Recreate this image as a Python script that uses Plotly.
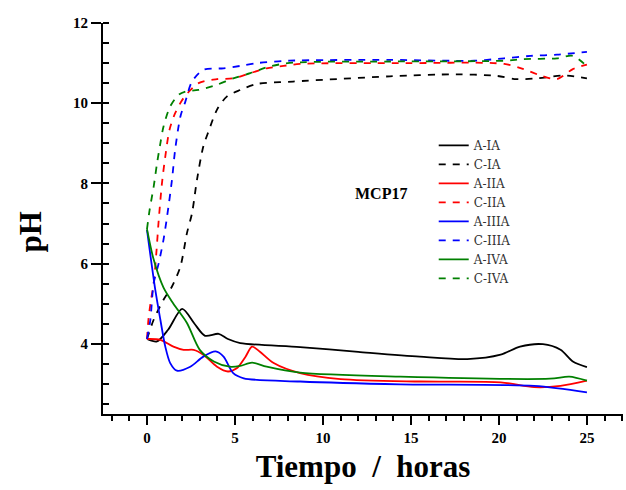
import plotly.graph_objects as go

# pH vs time readings for the eight MCP17 cells (A = anode, C = cathode)
t_A_IA = [0, 0.57, 1.2, 2.0, 2.7, 3.3, 4.07, 4.6, 5.3, 8.7, 12.0, 15.5, 18.2, 20.1, 21.2, 22.5, 23.5, 24.2, 25.0]
ph_A_IA = [4.12, 4.06, 4.35, 4.87, 4.5, 4.2, 4.25, 4.12, 4.02, 3.92, 3.8, 3.68, 3.62, 3.73, 3.93, 3.99, 3.85, 3.56, 3.42]

t_C_IA = [0, 0.38, 0.94, 1.42, 1.9, 2.27, 2.56, 2.84, 3.2, 3.5, 3.98, 4.55, 5.3, 6.25, 8.3, 13.8, 17.6, 19.9, 21.0, 22.2, 23.7, 25.0]
ph_C_IA = [4.12, 4.6, 5.1, 5.43, 5.93, 6.76, 7.26, 8.09, 8.92, 9.3, 9.84, 10.17, 10.33, 10.48, 10.54, 10.67, 10.72, 10.68, 10.6, 10.62, 10.69, 10.62]

t_A_IIA = [0, 0.76, 1.5, 2.08, 2.65, 3.2, 3.98, 4.6, 5.1, 5.6, 5.97, 6.4, 7.2, 8.7, 11.0, 15.5, 20.1, 22.0, 23.5, 25.0]
ph_A_IIA = [4.12, 4.1, 3.93, 3.85, 3.85, 3.73, 3.43, 3.31, 3.39, 3.68, 3.93, 3.81, 3.52, 3.27, 3.12, 3.06, 3.04, 2.92, 2.95, 3.08]

t_C_IIA = [0, 0.09, 0.23, 0.38, 0.53, 0.66, 0.85, 1.04, 1.28, 1.6, 2.08, 2.93, 3.98, 4.9, 5.87, 6.8, 7.76, 8.7, 14.8, 20.3, 21.4, 22.5, 23.3, 24.2, 25.0]
ph_C_IIA = [4.12, 4.64, 5.1, 5.51, 6.26, 7.05, 8.0, 8.67, 9.34, 9.75, 10.13, 10.5, 10.6, 10.62, 10.75, 10.87, 10.93, 10.98, 11.0, 10.98, 10.85, 10.67, 10.6, 10.85, 10.96]

t_A_IIIA = [0, 0.47, 0.76, 1.04, 1.32, 1.7, 2.46, 3.2, 3.9, 4.35, 4.9, 5.5, 8.7, 14.4, 22.0, 25.0]
ph_A_IIIA = [6.84, 5.35, 4.6, 3.93, 3.52, 3.33, 3.43, 3.68, 3.81, 3.68, 3.27, 3.14, 3.06, 2.99, 2.95, 2.79]

t_C_IIIA = [0, 0.19, 0.38, 0.66, 0.94, 1.14, 1.42, 1.6, 1.9, 2.18, 2.56, 3.2, 4.35, 5.3, 6.25, 8.1, 13.8, 18.6, 20.3, 21.8, 23.3, 25.0]
ph_C_IIIA = [4.12, 4.6, 5.51, 6.0, 6.6, 7.17, 8.09, 8.84, 9.67, 10.04, 10.54, 10.83, 10.87, 10.93, 11.0, 11.06, 11.08, 11.06, 11.12, 11.18, 11.21, 11.28]

t_A_IVA = [0, 0.38, 0.94, 1.5, 2.27, 3.0, 3.8, 4.7, 5.3, 5.97, 6.8, 8.7, 14.4, 22.9, 24.0, 25.0]
ph_A_IVA = [6.86, 6.1, 5.4, 5.0, 4.52, 3.85, 3.56, 3.43, 3.45, 3.53, 3.43, 3.28, 3.18, 3.13, 3.18, 3.08]

t_C_IVA = [0, 0.15, 0.38, 0.57, 0.76, 0.94, 1.32, 1.8, 2.18, 2.93, 3.98, 4.9, 5.87, 7.0, 8.3, 13.8, 20.3, 21.4, 23.3, 24.2, 25.0]
ph_C_IVA = [6.86, 7.34, 7.92, 8.5, 9.0, 9.42, 9.92, 10.21, 10.29, 10.33, 10.46, 10.62, 10.75, 10.92, 11.01, 11.04, 11.06, 11.1, 11.12, 11.18, 10.92]

series = [
    ("A-IA", t_A_IA, ph_A_IA, "black", "solid"),
    ("C-IA", t_C_IA, ph_C_IA, "black", "7px,7px"),
    ("A-IIA", t_A_IIA, ph_A_IIA, "red", "solid"),
    ("C-IIA", t_C_IIA, ph_C_IIA, "red", "7px,7px"),
    ("A-IIIA", t_A_IIIA, ph_A_IIIA, "blue", "solid"),
    ("C-IIIA", t_C_IIIA, ph_C_IIIA, "blue", "7px,7px"),
    ("A-IVA", t_A_IVA, ph_A_IVA, "green", "solid"),
    ("C-IVA", t_C_IVA, ph_C_IVA, "green", "7px,7px"),
]

x_ticks = [0, 5, 10, 15, 20, 25]
y_ticks = [4, 6, 8, 10, 12]

SERIF = "Liberation Serif, DejaVu Serif, serif"

fig = go.Figure()
for name, t, ph, color, dash in series:
    fig.add_trace(go.Scatter(
        x=t, y=ph, name=name, mode="lines",
        line=dict(color=color, width=1.8, dash=dash, shape="spline", smoothing=0.8),
    ))

fig.update_layout(
    width=626, height=490,
    margin=dict(l=103, r=3, t=23, b=76),
    paper_bgcolor="white", plot_bgcolor="white",
    showlegend=True,
    legend=dict(
        x=0.636, y=0.724, xanchor="left", yanchor="top",
        bgcolor="rgba(0,0,0,0)",
        font=dict(family="DejaVu Serif, serif", size=12, color="#333333"),
        tracegroupgap=0,
    ),
    xaxis=dict(
        range=[-2.5, 27.05],
        tickvals=x_ticks, ticktext=[str(v) for v in x_ticks],
        showgrid=False, zeroline=False,
        showline=True, linecolor="black", linewidth=2,
        ticks="outside", ticklen=9, tickwidth=2, tickcolor="black",
        minor=dict(dtick=1, ticks="outside", ticklen=5, tickwidth=1.5, tickcolor="black"),
        tickfont=dict(family=SERIF, size=15, color="black", weight="bold"),
        title=dict(text="Tiempo  /  horas",
                   font=dict(family=SERIF, size=31, color="black", weight="bold"),
                   standoff=10),
    ),
    yaxis=dict(
        range=[2.25, 12],
        tickvals=y_ticks, ticktext=[str(v) for v in y_ticks],
        showgrid=False, zeroline=False,
        showline=True, linecolor="black", linewidth=2,
        ticks="outside", ticklen=10, tickwidth=2, tickcolor="black",
        minor=dict(dtick=0.5, ticks="inside", ticklen=6, tickwidth=1.5, tickcolor="black"),
        tickfont=dict(family=SERIF, size=15, color="black", weight="bold"),
    ),
    yaxis2=dict(
        overlaying="y", side="left", anchor="x",
        range=[2.25, 12], tickvals=y_ticks,
        showticklabels=False, showgrid=False, zeroline=False, showline=False,
        ticks="inside", ticklen=10, tickwidth=2, tickcolor="black",
    ),
    annotations=[
        dict(
            x=13.3, y=7.74, xref="x", yref="y", text="<b>MCP17</b>", showarrow=False,
            font=dict(family=SERIF, size=16, color="black"),
        ),
        dict(
            x=-0.14, y=0.465, xref="paper", yref="paper", text="<b>pH</b>",
            xanchor="center", yanchor="middle",
            textangle=-90, showarrow=False,
            font=dict(family=SERIF, size=31, color="black"),
        ),
    ],
)

fig.write_html("out.html")
